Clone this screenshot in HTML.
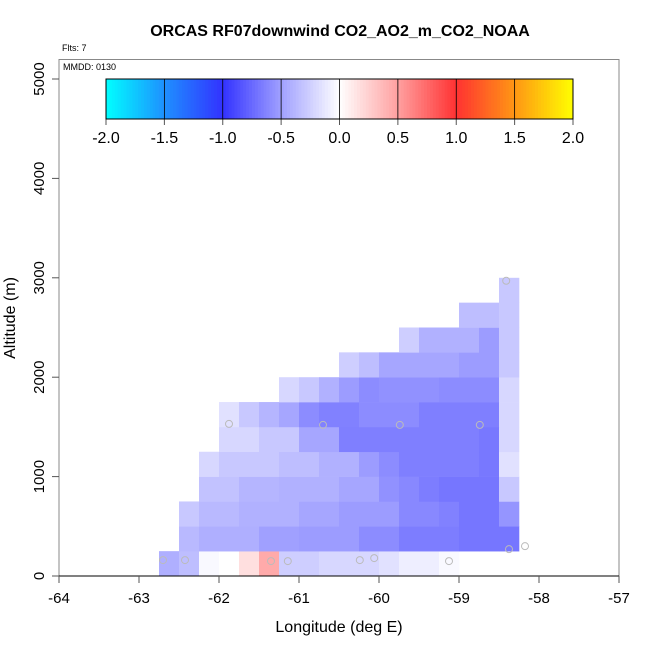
<!DOCTYPE html>
<html><head><meta charset="utf-8">
<style>
html,body{margin:0;padding:0;background:#fff;}
svg{display:block;font-family:"Liberation Sans",Arial,sans-serif;}
</style></head>
<body>
<svg id="chart" width="650" height="650" viewBox="0 0 650 650" xmlns="http://www.w3.org/2000/svg">
<text x="340" y="36" font-size="16" font-weight="bold" text-anchor="middle">ORCAS RF07downwind CO2_AO2_m_CO2_NOAA</text>
<text x="62" y="51" font-size="9">Flts: 7</text>
<rect x="59" y="59.5" width="560" height="516.5" fill="none" stroke="#888" stroke-width="1"/>
<text x="63" y="70" font-size="9">MMDD: 0130</text>
<g id="cells"></g>
<g id="pts"></g>
<g id="axes"></g>
<g id="cbar"></g>
<text x="339" y="632" font-size="16" text-anchor="middle">Longitude (deg E)</text>
<text x="15" y="318" font-size="16" text-anchor="middle" transform="rotate(-90 15 318)">Altitude (m)</text>
</svg>
<script>
const lonStart = -62.75;
const lonStep = 0.25;
const altStep = 250;
// rows from altitude 0 upward; null = no data; columns lon -62.75 + 0.25*c (18 columns)
const row0 = [-0.42,-0.34,-0.03,0.0,0.17,0.45,-0.26,-0.26,-0.21,-0.21,-0.21,-0.16,-0.09,-0.09,-0.03,null,null,null];
const row1 = [null,-0.37,-0.42,-0.42,-0.42,-0.5,-0.5,-0.52,-0.52,-0.52,-0.59,-0.59,-0.66,-0.66,-0.66,-0.69,-0.69,-0.69];
const row2 = [null,-0.29,-0.37,-0.37,-0.41,-0.41,-0.41,-0.47,-0.47,-0.52,-0.52,-0.52,-0.61,-0.61,-0.64,-0.69,-0.69,-0.55];
const row3 = [null,null,-0.32,-0.32,-0.39,-0.39,-0.41,-0.41,-0.41,-0.47,-0.47,-0.57,-0.61,-0.66,-0.69,-0.69,-0.69,-0.29];
const row4 = [null,null,-0.21,-0.29,-0.29,-0.29,-0.34,-0.34,-0.41,-0.41,-0.52,-0.59,-0.65,-0.65,-0.65,-0.65,-0.68,-0.16];
const row5 = [null,null,null,-0.21,-0.21,-0.29,-0.29,-0.47,-0.47,-0.65,-0.65,-0.65,-0.65,-0.65,-0.65,-0.65,-0.68,-0.21];
const row6 = [null,null,null,-0.16,-0.29,-0.39,-0.47,-0.59,-0.64,-0.64,-0.59,-0.59,-0.59,-0.65,-0.65,-0.65,-0.65,-0.21];
const row7 = [null,null,null,null,null,null,-0.21,-0.29,-0.41,-0.52,-0.59,-0.57,-0.57,-0.57,-0.59,-0.59,-0.59,-0.21];
const row8 = [null,null,null,null,null,null,null,null,null,-0.26,-0.34,-0.47,-0.47,-0.47,-0.47,-0.52,-0.52,-0.29];
const row9 = [null,null,null,null,null,null,null,null,null,null,null,null,-0.26,-0.41,-0.41,-0.41,-0.52,-0.29];
const row10 = [null,null,null,null,null,null,null,null,null,null,null,null,null,null,null,-0.34,-0.34,-0.29];
const row11 = [null,null,null,null,null,null,null,null,null,null,null,null,null,null,null,null,null,-0.29];
const rows = [row0,row1,row2,row3,row4,row5,row6,row7,row8,row9,row10,row11];
const ptLon = [-61.875,-60.7,-59.74,-58.74,-58.41,-58.375,-58.175,-62.7,-62.425,-61.35,-61.14,-60.24,-60.06,-59.125];
const ptAlt = [1530,1520,1520,1520,2970,270,300,160,160,150,150,160,180,150];
const xTicks = [-64,-63,-62,-61,-60,-59,-58,-57];
const yTicks = [0,1000,2000,3000,4000,5000];
const cbTicks = [-2.0,-1.5,-1.0,-0.5,0.0,0.5,1.0,1.5,2.0];

const NS = "http://www.w3.org/2000/svg";
function X(lon){return 59 + (lon + 64) * 80;}
function Y(alt){return 576 - alt * 0.0994;}
function CB(v){return 106 + (v + 2) * 116.75;}
const stops = [[-2,[0,255,255]],[-1.5,[30,144,255]],[-1,[50,50,255]],[-0.5,[160,160,255]],[0,[255,255,255]],[0.5,[255,160,160]],[1,[255,50,50]],[1.5,[255,150,20]],[2,[255,255,0]]];
function color(v){
  v=Math.max(-2,Math.min(2,v));
  for(let i=0;i<stops.length-1;i++){
    const a=stops[i],b=stops[i+1];
    if(v<=b[0]){const t=(v-a[0])/(b[0]-a[0]);
      const c=a[1].map((x,k)=>Math.round(x+(b[1][k]-x)*t));
      return "rgb("+c.join(",")+")";}
  }
  return "rgb(255,255,0)";
}
function mk(tag,attrs,parent){const e=document.createElementNS(NS,tag);for(const k in attrs)e.setAttribute(k,attrs[k]);parent.appendChild(e);return e;}

const cells=document.getElementById("cells");
rows.forEach((row,r)=>{row.forEach((v,c)=>{
  if(v===null)return;
  const x0=X(lonStart+c*lonStep),x1=X(lonStart+(c+1)*lonStep);
  const y0=Y((r+1)*altStep),y1=Y(r*altStep);
  const e=mk("rect",{x:x0,y:y0,width:x1-x0+0.3,height:y1-y0+0.3,fill:color(v)},cells);
  
  
});});

const pts=document.getElementById("pts");
ptLon.forEach((lon,i)=>{
  const e=mk("circle",{cx:X(lon),cy:Y(ptAlt[i]),r:3.5,fill:"none",stroke:"#bbb","stroke-width":1},pts);
  
  
});

const axes=document.getElementById("axes");
let ax=mk("line",{x1:X(-64),x2:X(-57),y1:576,y2:576,stroke:"#000","stroke-width":1},axes);


xTicks.forEach(t=>{
  mk("line",{x1:X(t),x2:X(t),y1:576,y2:583,stroke:"#555"},axes);
  const e=mk("text",{x:X(t),y:603,"font-size":15,"text-anchor":"middle"},axes);
  e.textContent=t;
  
  
});
yTicks.forEach(t=>{
  mk("line",{x1:52,x2:59,y1:Y(t),y2:Y(t),stroke:"#555"},axes);
  const e=mk("text",{x:44,y:Y(t),"font-size":15,"text-anchor":"middle",transform:"rotate(-90 44 "+Y(t)+")"},axes);
  e.textContent=t;
  
  
});

const cb=document.getElementById("cbar");
const N=160;
for(let i=0;i<N;i++){
  const v=-2+4*(i+0.5)/N;
  mk("rect",{x:CB(-2+4*i/N),y:79,width:116.75*4/N+0.4,height:40,fill:color(v)},cb);
}
cbTicks.forEach(t=>{
  mk("line",{x1:CB(t),x2:CB(t),y1:79,y2:119,stroke:"#000","stroke-width":0.8},cb);
  mk("line",{x1:CB(t),x2:CB(t),y1:119,y2:125,stroke:"#555"},cb);
  const e=mk("text",{x:CB(t),y:143,"font-size":16,"text-anchor":"middle"},cb);
  e.textContent=t.toFixed(1);
  
  
});
mk("rect",{x:CB(-2),y:79,width:CB(2)-CB(-2),height:40,fill:"none",stroke:"#000","stroke-width":1},cb);
</script>
</body></html>
